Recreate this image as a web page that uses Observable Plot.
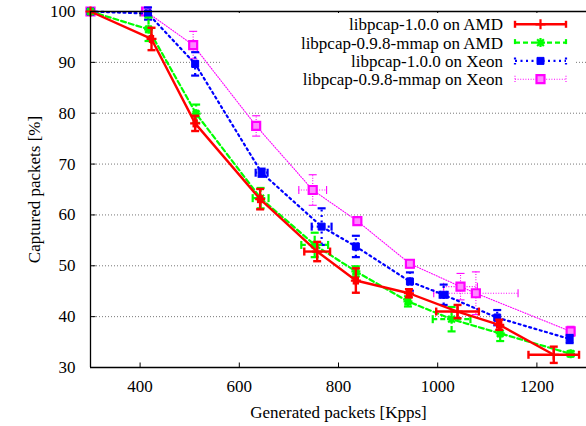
<!DOCTYPE html>
<html><head><meta charset="utf-8">
<script src="https://cdn.jsdelivr.net/npm/d3@7"></script>
<script src="https://cdn.jsdelivr.net/npm/@observablehq/plot@0.6"></script>
<style>html,body{margin:0;padding:0;background:#fff} svg{display:block}</style>
</head><body><div id="chart"></div>
<script>
// ---- data ----
const seriesNames = ["libpcap-1.0.0 on AMD","libpcap-0.9.8-mmap on AMD","libpcap-1.0.0 on Xeon","libpcap-0.9.8-mmap on Xeon"];

const amd100X    = [300, 423, 511, 642, 757, 835, 942, 1040, 1124, 1234];
const amd100Y    = [100, 94.6, 78.0, 63.1, 52.8, 47.1, 44.6, 41.0, 38.4, 32.5];
const amd100Xerr = [0, 3, 3, 4, 26, 4, 4, 43, 4, 51];
const amd100Yerr = [0, 2.2, 1.5, 2.0, 1.9, 2.4, 0.8, 1.3, 1.0, 1.6];

const amdMmapX    = [300, 417, 513, 643, 752, 835, 940, 1028, 1126, 1268];
const amdMmapY    = [100, 96.5, 79.9, 63.3, 54.1, 48.9, 43.0, 39.5, 36.7, 32.7];
const amdMmapXerr = [0, 4, 3, 16, 27, 4, 4, 38, 4, 3];
const amdMmapYerr = [0, 2.3, 1.8, 2.0, 2.4, 1.0, 1.0, 2.4, 1.5, 0.5];

const xeon100X    = [300, 416, 511, 645, 766, 835, 944, 1012, 1120, 1266];
const xeon100Y    = [100, 99.6, 89.7, 68.3, 57.7, 53.8, 46.9, 44.3, 39.8, 35.6];
const xeon100Xerr = [0, 4, 4, 12, 20, 4, 4, 8, 4, 3];
const xeon100Yerr = [0, 1.2, 2.3, 0.8, 3.6, 2.1, 1.8, 2.0, 1.5, 0.8];

const xeonMmapX    = [300, 412, 507, 634, 748, 838, 944, 1046, 1077, 1268];
const xeonMmapY    = [100, 100, 93.4, 77.5, 64.9, 58.8, 50.4, 45.9, 44.6, 37.1];
const xeonMmapXerr = [0, 3, 3, 4, 28, 4, 4, 34, 85, 3];
const xeonMmapYerr = [0, 0.5, 2.7, 2.0, 3.0, 0.6, 0.8, 2.6, 4.2, 1.0];

const xTicks = [400, 600, 800, 1000, 1200];
const yTicks = [30, 40, 50, 60, 70, 80, 90, 100];
const gridY  = [40, 50, 60, 70, 80, 90];
const xDomain = [300, 1300];
const yDomain = [30, 100];

// ---- symbols ----
const rad = s => Math.sqrt(s / Math.PI);
const sym = {
  plus:   {draw(c, s) { const r = rad(s); c.moveTo(-r, 0); c.lineTo(r, 0); c.moveTo(0, -r); c.lineTo(0, r); }},
  star:   {draw(c, s) { const r = rad(s), d = r * 0.75; c.moveTo(-r, 0); c.lineTo(r, 0); c.moveTo(0, -r); c.lineTo(0, r);
                        c.moveTo(-d, -d); c.lineTo(d, d); c.moveTo(-d, d); c.lineTo(d, -d); }},
  square: {draw(c, s) { const r = rad(s); c.rect(-r, -r, 2 * r, 2 * r); }},
  hcap:   {draw(c, s) { const r = rad(s); c.moveTo(-r, 0); c.lineTo(r, 0); }},
  vcap:   {draw(c, s) { const r = rad(s); c.moveTo(0, -r); c.lineTo(0, r); }},
  tickUp:    {draw(c, s) { const r = rad(s); c.moveTo(0, 0); c.lineTo(0, -r); }},
  tickDown:  {draw(c, s) { const r = rad(s); c.moveTo(0, 0); c.lineTo(0, r); }},
  tickRight: {draw(c, s) { const r = rad(s); c.moveTo(0, 0); c.lineTo(r, 0); }}
};

const styles = [
  {stroke: "#ff0000", sw: 2.4, dash: undefined, symbol: sym.plus,   r: 5,   fill: "none",    msw: 2.2},
  {stroke: "#00ff00", sw: 2.2, dash: "5,3",     symbol: sym.star,   r: 4.5, fill: "none",    msw: 2.2},
  {stroke: "#0000ff", sw: 2.2, dash: "2,3.5",   symbol: sym.square, r: 3.5, fill: "#0000ff", msw: 1},
  {stroke: "#ff00ff", sw: 1.1, dash: "1,1.6",   symbol: sym.square, r: 4,   fill: "#ff88ff", msw: 2.2}
];

const raw = [
  [amd100X, amd100Y, amd100Xerr, amd100Yerr],
  [amdMmapX, amdMmapY, amdMmapXerr, amdMmapYerr],
  [xeon100X, xeon100Y, xeon100Xerr, xeon100Yerr],
  [xeonMmapX, xeonMmapY, xeonMmapXerr, xeonMmapYerr]
];
const series = raw.map(([X, Y, XE, YE], i) => X.map((x, j) => ({name: seriesNames[i], x, y: Y[j], xe: XE[j], ye: YE[j]})));

function seriesMarks(rows, st) {
  const ey = rows.filter(d => d.ye > 0), ex = rows.filter(d => d.xe > 0);
  const ycaps = ey.flatMap(d => [{x: d.x, y: d.y - d.ye}, {x: d.x, y: d.y + d.ye}]);
  const xcaps = ex.flatMap(d => [{x: d.x - d.xe, y: d.y}, {x: d.x + d.xe, y: d.y}]);
  const common = {stroke: st.stroke, strokeWidth: st.sw, strokeDasharray: st.dash};
  return [
    Plot.line(rows, {x: "x", y: "y", ...common}),
    Plot.ruleX(ey, {x: "x", y1: d => d.y - d.ye, y2: d => d.y + d.ye, ...common}),
    Plot.ruleY(ex, {y: "y", x1: d => d.x - d.xe, x2: d => d.x + d.xe, ...common}),
    Plot.dot(ycaps, {x: "x", y: "y", symbol: sym.hcap, r: 4, stroke: st.stroke, strokeWidth: st.sw, fill: "none"}),
    Plot.dot(xcaps, {x: "x", y: "y", symbol: sym.vcap, r: 4, stroke: st.stroke, strokeWidth: st.sw, fill: "none"}),
    Plot.dot(rows, {x: "x", y: "y", symbol: st.symbol, r: st.r, stroke: st.stroke, strokeWidth: st.msw, fill: st.fill})
  ];
}

const font = "'Liberation Serif', 'Times New Roman', Times, serif";
const svg = Plot.plot({
  width: 586, height: 426,
  marginLeft: 90, marginRight: 0, marginTop: 11, marginBottom: 59,
  x: {domain: xDomain},
  y: {domain: yDomain},
  style: {fontFamily: font, fontSize: "17px", color: "#000", background: "#fff"},
  marks: [
    Plot.ruleY(gridY, {stroke: "#777", strokeWidth: 1, strokeDasharray: "1,2"}),
    ...[3, 2, 1, 0].flatMap(i => seriesMarks(series[i], styles[i])),
    Plot.ruleX([xDomain[0]], {stroke: "#000", strokeWidth: 1.3}),
    Plot.ruleY(yDomain, {stroke: "#000", strokeWidth: 1.3}),
    Plot.dot(xTicks, {x: d => d, frameAnchor: "bottom", symbol: sym.tickUp, r: 5, stroke: "#000", strokeWidth: 1}),
    Plot.dot(xTicks, {x: d => d, frameAnchor: "top", symbol: sym.tickDown, r: 5, stroke: "#000", strokeWidth: 1}),
    Plot.dot(yTicks, {y: d => d, frameAnchor: "left", symbol: sym.tickRight, r: 5, stroke: "#000", strokeWidth: 1}),
    Plot.axisX({ticks: xTicks, tickSize: 0, tickPadding: 12, tickFormat: d => String(d), fontSize: 17, fontFamily: font,
      label: "Generated packets [Kpps]", labelAnchor: "center", labelOffset: 50, labelArrow: "none"}),
    Plot.axisY({ticks: yTicks, tickSize: 0, tickPadding: 15, tickFormat: d => String(d), fontSize: 17, fontFamily: font,
      label: "Captured packets [%]", labelAnchor: "center", labelOffset: 63, labelArrow: "none"})
  ]
});

// ---- legend (gnuplot-style key, opaque) ----
const lg = d3.select(svg).append("g").attr("font-size", 17);
lg.append("rect").attr("x", 222).attr("y", 13).attr("width", 353).attr("height", 55).attr("fill", "#fff");
const rowY = [24.3, 42.6, 60.9, 79.2];
seriesNames.forEach((name, i) => {
  const st = styles[i], y = rowY[i];
  lg.append("text").attr("x", 503).attr("y", y).attr("dy", "0.35em").attr("text-anchor", "end").attr("fill", "#000").text(name);
  const common = s => s.attr("stroke", st.stroke).attr("stroke-width", st.sw).attr("stroke-dasharray", st.dash || null).attr("fill", "none");
  common(lg.append("line").attr("x1", 515).attr("x2", 566).attr("y1", y).attr("y2", y));
  [515, 566].forEach(x => common(lg.append("line").attr("x1", x).attr("x2", x).attr("y1", y - 3.5).attr("y2", y + 3.5)));
  lg.append("path").attr("transform", `translate(540.5,${y})`)
    .attr("d", d3.symbol().type(st.symbol).size(st.r * st.r * Math.PI)())
    .attr("stroke", st.stroke).attr("stroke-width", st.msw).attr("fill", st.fill);
});

d3.select(svg).selectAll("text").style("font-family", font);
document.getElementById("chart").appendChild(svg);
</script>
</body></html>
